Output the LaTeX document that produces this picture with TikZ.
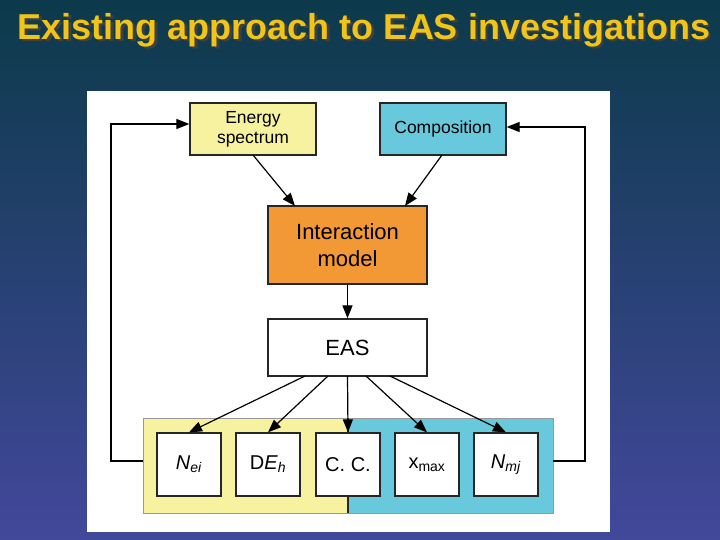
\documentclass[tikz,border=0pt]{standalone}
\usepackage{fontspec}
\setmainfont{Liberation Sans}
\usetikzlibrary{arrows.meta}
\definecolor{bgtop}{RGB}{12,58,74}
\definecolor{bgbot}{RGB}{66,72,155}
\definecolor{ylw}{RGB}{246,242,160}
\definecolor{cyn}{RGB}{104,200,220}
\definecolor{org}{RGB}{242,152,52}
\definecolor{ttl}{RGB}{240,196,24}
\tikzset{
  box/.style={draw=black!85, line width=1.3pt, minimum width=#1, align=center, inner sep=0pt},
  sbox/.style={draw=black!85, line width=1.3pt, fill=white, minimum width=64pt, minimum height=63pt, font=\fontsize{20}{22}\selectfont},
  arr/.style={-{Triangle[length=13pt,width=10pt]}, line width=1.2pt, black},
}
\begin{document}
\begin{tikzpicture}[x=1pt,y=-1pt]
\shade[top color=bgtop, bottom color=bgbot] (0,0) rectangle (720,540);
\useasboundingbox (0,0) rectangle (720,540);
\node[text=black!75, font=\bfseries\fontsize{36}{38}\selectfont, anchor=center] at (366.5,32.5) {Existing approach to EAS investigations};
\node[text=ttl, font=\bfseries\fontsize{36}{38}\selectfont, anchor=center] (title) at (364,30) {Existing approach to EAS investigations};
\fill[white] (87,91) rectangle (610,532);
% band
\fill[ylw] (143,418) rectangle (348,513);
\fill[cyn] (348,418) rectangle (553,513);
\draw[black!40, line width=0.6pt] (143,418) rectangle (553,513);
\draw[black!85, line width=2pt] (348,418) -- (348,513);
\coordinate (bandL) at (143,461);
\coordinate (bandR) at (553,461);
% top boxes
\node[box=126pt, minimum height=52pt, fill=ylw, font=\fontsize{17.5}{20}\selectfont] (es) at (253,129) {Energy\\spectrum};
\node[box=126pt, minimum height=52pt, fill=cyn, font=\fontsize{17.5}{20}\selectfont] (comp) at (443,129) {Composition};
\node[box=159pt, minimum height=78pt, fill=org, font=\fontsize{22}{27}\selectfont] (im) at (347.5,245) {Interaction\\model};
\node[box=159pt, minimum height=57pt, fill=white, font=\fontsize{22}{27}\selectfont] (eas) at (347.5,347.5) {EAS};
% small boxes
\node[sbox] (nei) at (189,464.5) {\textit{N}\textsubscript{\textit{ei}}};
\node[sbox] (deh) at (268,464.5) {D\textit{E}\textsubscript{\textit{h}}};
\node[sbox] (cc) at (348,464.5) {C. C.};
\node[sbox] (xm) at (427,464.5) {x\textsubscript{max}};
\node[sbox] (nmj) at (506,464.5) {\textit{N}\textsubscript{\textit{mj}}};
% arrows
\draw[arr] (253,155) -- (295,206);
\draw[arr] (442,155) -- (405,206);
\draw[arr] (im.south) -- (eas.north);
\draw[arr] (305,376) -- (nei.north);
\draw[arr] (328,376) -- (deh.north);
\draw[arr] (347.5,376) -- (cc.north);
\draw[arr] (366,376) -- (xm.north);
\draw[arr] (390,376) -- (nmj.north);
% feedback
\draw[arr] (bandL) -- (111,461) -- (111,124) -- (es.west|-0,124);
\draw[arr] (bandR) -- (585,461) -- (585,127) -- (comp.east|-0,127);
\end{tikzpicture}
\end{document}
